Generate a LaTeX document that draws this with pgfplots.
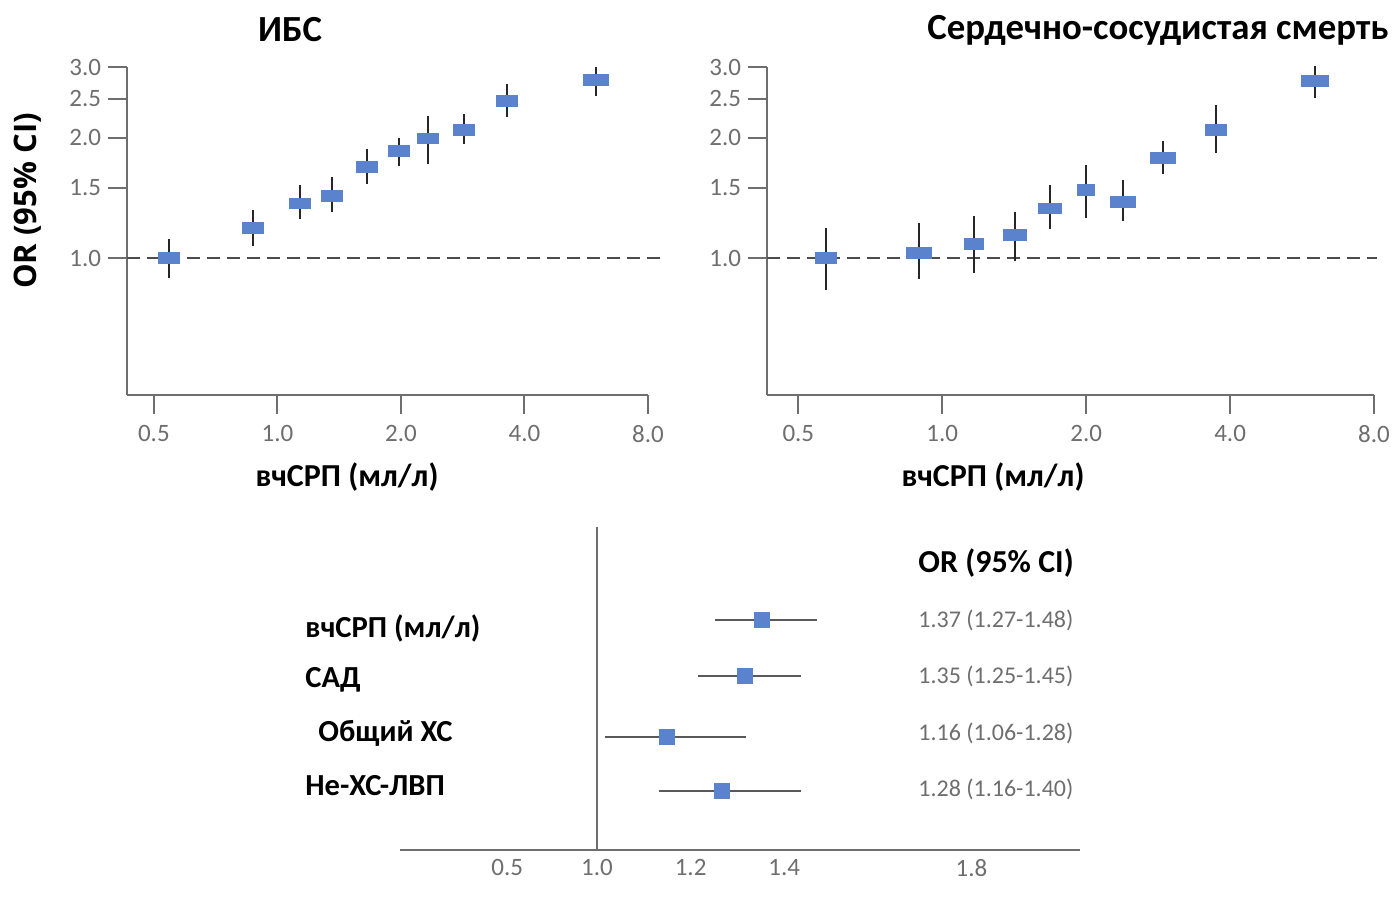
\documentclass[border=0pt]{standalone}
\usepackage{pgfplots}
\usepackage{pgfplotstable}
\pgfplotsset{compat=1.18}
\usepackage{fontspec}
\setmainfont{Carlito}
\newfontfamily\osb{Open Sans}
\definecolor{mblue}{RGB}{91,130,205}
\definecolor{axgray}{RGB}{110,110,110}
\definecolor{tkgray}{RGB}{110,110,110}

\pgfdeclareplotmark{rect}{%
  \pgfpathrectangle{\pgfpoint{-\pgfplotmarksize}{-2.9pt}}{\pgfpoint{2\pgfplotmarksize}{5.8pt}}%
  \pgfusepathqfill}
\pgfdeclareplotmark{fsq}{%
  \pgfpathrectangle{\pgfpoint{-\pgfplotmarksize}{-\pgfplotmarksize}}{\pgfpoint{2\pgfplotmarksize}{2\pgfplotmarksize}}%
  \pgfusepathqfill}

\pgfplotstableread{
x y lo hi w
0.545 1.00 0.892 1.115 5.5
0.87 1.19 1.07 1.32 5.5
1.135 1.37 1.25 1.52 5.5
1.356 1.43 1.30 1.59 5.5
1.65 1.69 1.535 1.875 5.5
1.98 1.85 1.70 2.00 5.5
2.33 1.99 1.72 2.26 5.5
2.85 2.09 1.93 2.29 5.5
3.63 2.47 2.25 2.72 5.5
5.97 2.78 2.54 3.00 6.5
}\ibs

\pgfplotstableread{
x y lo hi w
0.572 1.00 0.83 1.19 5.5
0.895 1.03 0.886 1.22 6.5
1.165 1.084 0.917 1.27 5
1.42 1.14 0.985 1.30 6
1.68 1.33 1.18 1.52 6
2.00 1.48 1.26 1.71 4.5
2.39 1.38 1.235 1.57 6.5
2.90 1.78 1.62 1.96 6.5
3.73 2.09 1.83 2.41 5.5
6.01 2.77 2.51 3.02 7
}\ssd

\pgfplotstableread{
x lo hi y
1.353 1.252 1.470 4
1.316 1.216 1.436 3.02
1.150 1.017 1.318 1.95
1.267 1.132 1.436 1
}\forest

\pgfplotsset{
  topax/.style={
    anchor=south west, scale only axis, height=164pt,
    xmin=0.43, xmax=8, ymin=0.455, ymax=3,
    axis lines*=left,
    axis line style={axgray, line width=1pt},
    tick align=outside, major tick length=9.5pt,
    tick style={axgray, line width=1pt},
    minor xtick={}, minor ytick={},
    xtick={0.5,1,2,4,8}, xticklabels={0.5,1.0,2.0,4.0,8.0},
    ytick={1,1.5,2,2.5,3}, yticklabels={1.0,1.5,2.0,2.5,3.0},
    ticklabel style={font=\fontsize{12.5}{14}\selectfont, text=tkgray},
    xticklabel style={yshift=-2pt},
    clip=false,
  },
  marksty/.style={scatter, only marks, mark=rect,
    scatter/use mapped color={draw=none,fill=mblue},
    visualization depends on={\thisrow{w}\as\mw},
    scatter/@pre marker code/.append style={/tikz/mark size=\mw}},
  ebsty/.style={draw=none, mark=none, forget plot,
    error bars/.cd, y dir=both, y explicit, error mark=none,
    error bar style={draw=black!85, solid, line width=1pt}},
}

\begin{document}
\begin{tikzpicture}
\path[use as bounding box] (0,0) rectangle (697.5pt,453.5pt);

% left panel
\begin{axis}[xmode=log, ymode=log, log basis x=2, topax, at={(63.5pt,256pt)}, width=260.5pt]
\addplot[dash pattern=on 6.5pt off 3.5pt, black!70, line width=0.8pt] coordinates {(0.43,1) (8.9,1)};
\addplot[marksty] table[x=x,y=y]{\ibs};
\addplot[ebsty] table[x=x,y=y,y error plus expr=\thisrow{hi}-\thisrow{y},y error minus expr=\thisrow{y}-\thisrow{lo}]{\ibs};
\end{axis}

% right panel
\begin{axis}[xmode=log, ymode=log, log basis x=2, topax, at={(383.5pt,256pt)}, width=303.5pt]
\addplot[dash pattern=on 6.5pt off 3.5pt, black!70, line width=0.8pt] coordinates {(0.43,1) (8.1,1)};
\addplot[marksty] table[x=x,y=y]{\ssd};
\addplot[ebsty] table[x=x,y=y,y error plus expr=\thisrow{hi}-\thisrow{y},y error minus expr=\thisrow{y}-\thisrow{lo}]{\ssd};
\end{axis}

% forest panel
\begin{axis}[at={(200pt,28.5pt)}, anchor=south west, scale only axis,
  width=340pt, height=161.5pt,
  xmin=0.579, xmax=2.032, ymin=-0.035, ymax=5.63,
  axis x line*=bottom, axis y line=none,
  axis line style={axgray, line width=1pt},
  xtick={0.808,1,1.2,1.4,1.8}, xticklabels={0.5,1.0,1.2,1.4,1.8},
  major tick length=0pt, ytick=\empty,
  ticklabel style={font=\fontsize{12.5}{14}\selectfont, text=tkgray},
  xticklabel style={yshift=-1pt},
  clip=false]
\draw[axgray, line width=1pt] (axis cs:1,-0.035) -- (axis cs:1,5.63);
\addplot[draw=none, mark=none, forget plot, error bars/.cd, x dir=both, x explicit, error mark=none,
  error bar style={draw=black!65, solid, line width=1pt}]
  table[x=x,y=y,x error plus expr=\thisrow{hi}-\thisrow{x},x error minus expr=\thisrow{x}-\thisrow{lo}]{\forest};
\addplot[only marks, mark=fsq, mark size=4pt, mblue] table[x=x,y=y]{\forest};
\end{axis}

% titles and labels
\node[font=\bfseries\fontsize{18.4}{21}\selectfont] at (145pt,438.5pt) {ИБС};
\node[font=\bfseries\fontsize{18.4}{21}\selectfont] at (579pt,438.5pt) {Сердечно-сосудистая смерть};
\node[rotate=90, font=\osb\bfseries\fontsize{15.5}{18}\selectfont] at (14pt,353pt) {OR (95\% CI)};
\node[font=\bfseries\fontsize{16}{19}\selectfont] at (173.5pt,215pt) {вчСРП (мл/л)};
\node[font=\bfseries\fontsize{16}{19}\selectfont] at (496.5pt,215pt) {вчСРП (мл/л)};

\begin{scope}[every node/.style={anchor=west, inner sep=0pt, font=\bfseries\fontsize{15.3}{18}\selectfont}]
\node at (152.5pt,139.5pt) {вчСРП (мл/л)};
\node at (152.5pt,113.5pt) {САД};
\node at (159pt,87pt) {Общий ХС};
\node at (152.5pt,60.5pt) {Не-ХС-ЛВП};
\node[font=\bfseries\fontsize{16}{19}\selectfont] at (459pt,172pt) {OR (95\% CI)};
\end{scope}
\begin{scope}[every node/.style={anchor=west, inner sep=0pt, text=tkgray, font=\fontsize{12}{14}\selectfont}]
\node at (459pt,143.5pt) {1.37 (1.27-1.48)};
\node at (459pt,115.5pt) {1.35 (1.25-1.45)};
\node at (459pt,87pt) {1.16 (1.06-1.28)};
\node at (459pt,59pt) {1.28 (1.16-1.40)};
\end{scope}
\end{tikzpicture}
\end{document}
